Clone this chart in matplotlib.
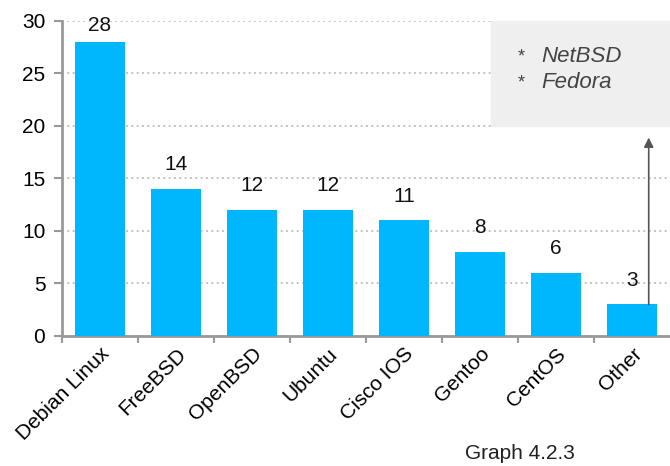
import numpy as np
import matplotlib.pyplot as plt

systems = ['Debian Linux', 'FreeBSD', 'OpenBSD', 'Ubuntu', 'Cisco IOS', 'Gentoo', 'CentOS', 'Other']
counts = [28, 14, 12, 12, 11, 8, 6, 3]
others = ['NetBSD', 'Fedora']

plt.rcParams['font.family'] = ['Liberation Sans', 'DejaVu Sans']

fig = plt.figure(figsize=(6.7, 4.66), dpi=100)
ax = fig.add_axes([0.0925, 0.279, 0.9075, 0.676])

x = np.arange(len(systems))
ax.bar(x, counts, width=0.66, color='#00b6fc', zorder=3)
for xi, c in zip(x, counts):
    # labels sit ~19px above bars, less when near the top of the axes
    off = 10.5 if c < 25 else 5
    ax.annotate(str(c), (xi, c), xytext=(0, off), textcoords='offset points',
                ha='center', va='bottom', fontsize=15, color='#111111', zorder=5)

ax.set_xlim(-0.5, len(systems) - 0.5)
ax.set_ylim(0, 30)
ax.set_yticks(range(0, 31, 5))
ax.yaxis.grid(True, linestyle=(0, (1.2, 2)), color='#bbbbbb', linewidth=1.2, zorder=0)

ax.set_xticks(x - 0.5, minor=False)
ax.set_xticklabels([])
ax.set_xticks(x, minor=True)
ax.set_xticklabels(systems, minor=True, rotation=45, ha='right', rotation_mode='anchor', fontsize=15)
ax.tick_params(axis='x', which='minor', length=0, pad=6)
ax.tick_params(axis='x', which='major', length=5, width=1.5, color='#999999')
ax.tick_params(axis='y', length=6, width=1.5, color='#999999', labelsize=15, pad=6)

for s in ['top', 'right']:
    ax.spines[s].set_visible(False)
for s in ['left', 'bottom']:
    ax.spines[s].set_color('#999999')
    ax.spines[s].set_linewidth(2)

# box listing the "other" systems
ax.add_patch(plt.Rectangle((5.14, 20), 2.36, 10, color='#efefef', zorder=4, clip_on=False))
for i, name in enumerate(others):
    yy = 26.6 - 2.5 * i
    ax.text(5.54, yy, '*', fontsize=13, color='#444444', va='center', ha='center', zorder=5)
    ax.text(5.81, yy, name, fontsize=16, style='italic', color='#444444', va='center', zorder=5)

ax.annotate('', xy=(7.22, 18.9), xytext=(7.22, counts[-1]),
            arrowprops=dict(arrowstyle='-|>', color='#555555', lw=1.2, mutation_scale=14,
                            shrinkA=0, shrinkB=0), zorder=5)

fig.text(0.776, 0.027, 'Graph 4.2.3', ha='center', va='center', fontsize=15, color='#222222')

fig.savefig('out.png', dpi=100)
